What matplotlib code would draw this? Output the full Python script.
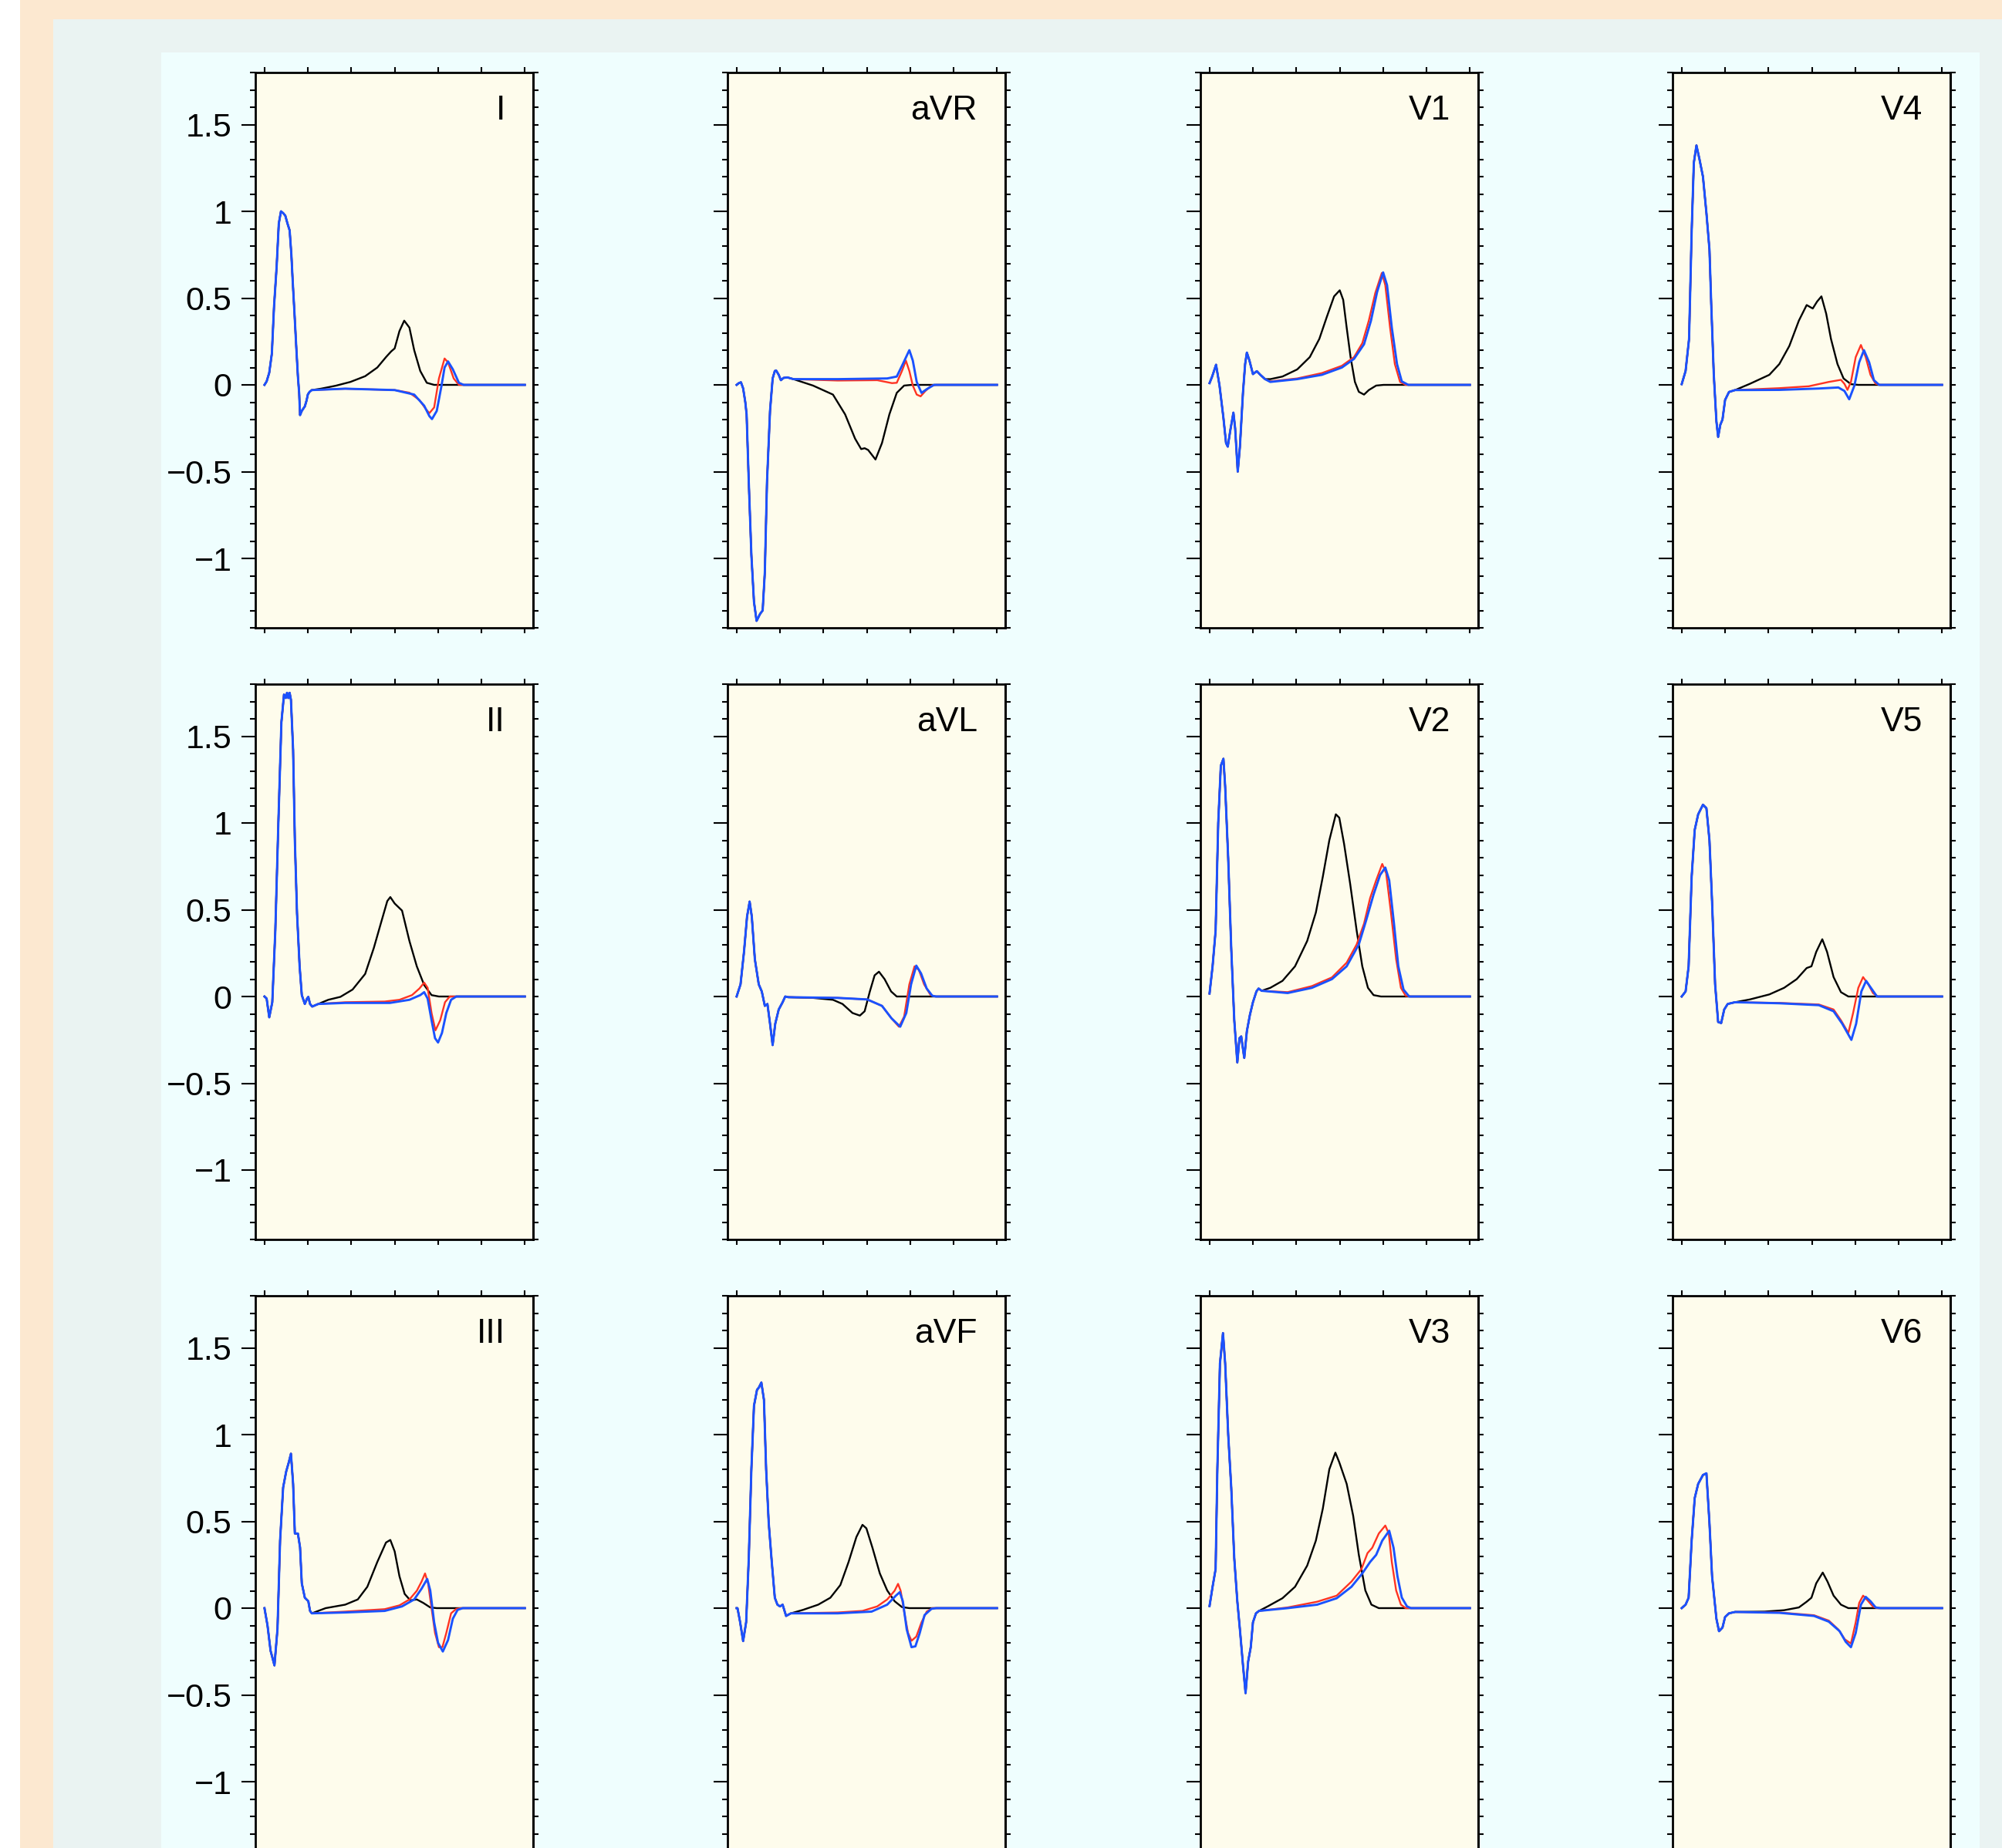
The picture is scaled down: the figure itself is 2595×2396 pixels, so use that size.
import matplotlib
matplotlib.use('Agg')
import matplotlib.pyplot as plt
from matplotlib.patches import Rectangle
from matplotlib.ticker import FixedLocator, MultipleLocator, NullFormatter

# ---------------- data (x in ms, y in mV) ----------------
xtick_vals = [0, 100, 200, 300, 400, 500, 600]
ytick_vals = [-1, -0.5, 0, 0.5, 1, 1.5]
ytick_labels = ['\u22121', '\u22120.5', '0', '0.5', '1', '1.5']

lead_grid = [['I', 'aVR', 'V1', 'V4'],
             ['II', 'aVL', 'V2', 'V5'],
             ['III', 'aVF', 'V3', 'V6']]

# Lead I
qrs_I_x = [0, 5, 11, 17, 22, 28, 33, 38, 43, 48, 53, 58, 62, 65, 69, 73, 77, 80, 82, 86, 90, 93, 97, 100, 104, 109]
qrs_I_y = [0, 0.02, 0.07, 0.18, 0.45, 0.68, 0.93, 1.0, 0.99, 0.975, 0.93, 0.89, 0.75, 0.6, 0.42, 0.23, 0.05, -0.05, -0.174, -0.15, -0.135, -0.124, -0.09, -0.055, -0.04, -0.03]
black_I_x = [130, 164, 198, 232, 260, 280, 292, 300, 311, 322, 334, 345, 359, 374, 391, 600]
black_I_y = [-0.022, -0.005, 0.017, 0.05, 0.1, 0.16, 0.193, 0.21, 0.31, 0.37, 0.33, 0.2, 0.08, 0.012, 0, 0]
red_I_x = [186, 300, 334, 357, 372, 380, 391, 402, 415, 423, 436, 448, 600]
red_I_y = [-0.022, -0.03, -0.045, -0.087, -0.14, -0.163, -0.13, 0.037, 0.152, 0.13, 0.037, 0, 0]
blue_I_x = [186, 300, 345, 368, 380, 386, 397, 408, 415, 423, 434, 448, 459, 600]
blue_I_y = [-0.022, -0.03, -0.056, -0.12, -0.18, -0.197, -0.15, -0.004, 0.1, 0.135, 0.09, 0.012, 0, 0]

# Lead aVR
qrs_aVR_x = [0, 5, 10, 15, 20, 23, 28, 34, 40, 46, 50, 54, 60, 65, 70, 77, 83, 88, 91, 97, 102, 108, 117, 131]
qrs_aVR_y = [0, 0.01, 0.015, -0.02, -0.1, -0.17, -0.56, -0.98, -1.25, -1.36, -1.34, -1.32, -1.3, -1.08, -0.56, -0.15, 0.037, 0.08, 0.083, 0.058, 0.027, 0.04, 0.043, 0.033]
black_aVR_x = [176, 222, 250, 273, 287, 295, 303, 320, 335, 352, 369, 386, 403, 600]
black_aVR_y = [-0.004, -0.056, -0.17, -0.31, -0.37, -0.365, -0.375, -0.43, -0.335, -0.17, -0.046, -0.004, 0, 0]
red_aVR_x = [233, 324, 358, 369, 381, 390, 398, 406, 415, 424, 435, 449, 460, 600]
red_aVR_y = [0.025, 0.027, 0.01, 0.012, 0.08, 0.14, 0.08, -0.004, -0.056, -0.066, -0.035, -0.004, 0, 0]
blue_aVR_x = [233, 347, 369, 383, 398, 406, 415, 426, 438, 455, 600]
blue_aVR_y = [0.033, 0.037, 0.048, 0.12, 0.2, 0.14, 0.017, -0.046, -0.025, 0, 0]

# Lead V1
qrs_V1_x = [0, 6, 15, 23, 32, 38, 42, 48, 55, 59, 65, 70, 77, 82, 86, 92, 100, 109, 117, 128]
qrs_V1_y = [0.01, 0.048, 0.116, -0.004, -0.19, -0.335, -0.356, -0.26, -0.16, -0.25, -0.5, -0.356, -0.046, 0.12, 0.186, 0.14, 0.062, 0.079, 0.058, 0.033]
black_V1_x = [140, 168, 202, 231, 253, 270, 287, 300, 308, 316, 325, 335, 344, 356, 367, 384, 401, 600]
black_V1_y = [0.033, 0.048, 0.089, 0.16, 0.265, 0.39, 0.51, 0.545, 0.49, 0.33, 0.16, 0.017, -0.04, -0.056, -0.03, -0.004, 0, 0]
red_V1_x = [140, 202, 259, 305, 333, 352, 367, 382, 397, 405, 416, 427, 439, 452, 600]
red_V1_y = [0.02, 0.037, 0.068, 0.11, 0.16, 0.24, 0.37, 0.53, 0.645, 0.575, 0.33, 0.12, 0.017, 0, 0]
blue_V1_x = [140, 202, 259, 305, 333, 356, 372, 386, 400, 409, 420, 432, 443, 458, 600]
blue_V1_y = [0.017, 0.033, 0.058, 0.1, 0.15, 0.234, 0.37, 0.534, 0.648, 0.575, 0.33, 0.12, 0.02, 0, 0]

# Lead V4
qrs_V4_x = [0, 9, 17, 23, 28, 34, 41, 49, 57, 64, 68, 74, 80, 84, 89, 94, 100, 109, 123]
qrs_V4_y = [0.004, 0.08, 0.265, 0.886, 1.28, 1.38, 1.3, 1.2, 0.99, 0.78, 0.47, 0.058, -0.21, -0.3, -0.23, -0.2, -0.087, -0.041, -0.03]
black_V4_x = [157, 202, 225, 248, 270, 288, 295, 302, 312, 322, 333, 344, 359, 373, 390, 407, 600]
black_V4_y = [0.006, 0.058, 0.12, 0.224, 0.37, 0.46, 0.45, 0.44, 0.48, 0.51, 0.41, 0.265, 0.12, 0.037, 0.004, 0, 0]
red_V4_x = [225, 293, 339, 367, 375, 382, 390, 401, 413, 424, 435, 447, 458, 600]
red_V4_y = [-0.019, -0.008, 0.017, 0.029, 0.006, -0.029, 0.017, 0.16, 0.23, 0.16, 0.058, 0.006, 0, 0]
blue_V4_x = [225, 316, 361, 375, 386, 398, 409, 420, 432, 443, 455, 600]
blue_V4_y = [-0.029, -0.021, -0.015, -0.035, -0.083, -0.004, 0.13, 0.2, 0.13, 0.027, 0, 0]

# Lead II
qrs_II_x = [0, 5, 11, 18, 25, 32, 39, 45, 49, 52, 55, 58, 61, 66, 70, 75, 81, 86, 93, 98, 101, 105, 110, 124]
qrs_II_y = [0, -0.012, -0.12, -0.033, 0.38, 1.0, 1.58, 1.74, 1.72, 1.75, 1.72, 1.75, 1.71, 1.42, 0.9, 0.48, 0.174, 0.008, -0.043, -0.012, -0.002, -0.043, -0.058, -0.043]
black_II_x = [147, 175, 203, 232, 252, 268, 283, 290, 300, 317, 334, 351, 368, 385, 402, 600]
black_II_y = [-0.019, -0.002, 0.04, 0.13, 0.28, 0.42, 0.55, 0.573, 0.536, 0.495, 0.32, 0.174, 0.066, 0.008, 0, 0]
red_II_x = [186, 277, 311, 340, 357, 368, 376, 385, 394, 405, 416, 427, 600]
red_II_y = [-0.033, -0.029, -0.019, 0.008, 0.046, 0.08, 0.05, -0.095, -0.195, -0.137, -0.033, 0, 0]
blue_II_x = [186, 289, 334, 359, 368, 376, 385, 393, 400, 409, 419, 430, 442, 600]
blue_II_y = [-0.037, -0.037, -0.019, 0.008, 0.025, -0.012, -0.137, -0.24, -0.265, -0.21, -0.095, -0.019, 0, 0]

# Lead aVL
qrs_aVL_x = [0, 9, 17, 24, 30, 35, 42, 51, 58, 65, 71, 77, 83, 89, 97, 106, 112, 119]
qrs_aVL_y = [0, 0.07, 0.257, 0.46, 0.547, 0.46, 0.215, 0.07, 0.029, -0.054, -0.043, -0.157, -0.28, -0.157, -0.075, -0.033, 0, -0.004]
black_aVL_x = [176, 222, 244, 267, 284, 295, 307, 318, 328, 341, 356, 369, 600]
black_aVL_y = [-0.008, -0.019, -0.043, -0.095, -0.11, -0.085, 0.029, 0.122, 0.143, 0.1, 0.029, 0, 0]
red_aVL_x = [233, 301, 335, 357, 374, 386, 398, 410, 420, 432, 447, 458, 600]
red_aVL_y = [-0.008, -0.017, -0.054, -0.126, -0.174, -0.116, 0.07, 0.174, 0.153, 0.07, 0.008, 0, 0]
blue_aVL_x = [233, 301, 335, 357, 377, 391, 402, 414, 425, 438, 451, 460, 600]
blue_aVL_y = [-0.008, -0.017, -0.054, -0.126, -0.174, -0.095, 0.07, 0.178, 0.133, 0.046, 0.004, 0, 0]

# Lead V2
qrs_V2_x = [0, 7, 14, 20, 26, 32, 36, 43, 50, 57, 64, 69, 73, 80, 86, 93, 100, 108, 113, 120]
qrs_V2_y = [0.017, 0.174, 0.38, 1.0, 1.33, 1.37, 1.21, 0.795, 0.277, -0.137, -0.38, -0.24, -0.23, -0.354, -0.2, -0.106, -0.033, 0.029, 0.046, 0.033]
black_V2_x = [140, 168, 197, 225, 245, 261, 276, 291, 299, 310, 324, 339, 352, 365, 378, 395, 600]
black_V2_y = [0.05, 0.09, 0.174, 0.32, 0.484, 0.69, 0.9, 1.05, 1.03, 0.88, 0.65, 0.38, 0.174, 0.05, 0.008, 0, 0]
red_V2_x = [180, 236, 282, 316, 339, 356, 370, 384, 398, 407, 418, 430, 441, 452, 464, 600]
red_V2_y = [0.025, 0.06, 0.11, 0.195, 0.3, 0.42, 0.567, 0.67, 0.764, 0.71, 0.484, 0.215, 0.05, 0.004, 0, 0]
blue_V2_x = [180, 236, 282, 316, 344, 361, 378, 393, 405, 414, 425, 435, 447, 460, 600]
blue_V2_y = [0.02, 0.05, 0.1, 0.174, 0.3, 0.44, 0.588, 0.7, 0.743, 0.67, 0.42, 0.174, 0.04, 0, 0]

# Lead V5
qrs_V5_x = [0, 9, 16, 23, 30, 38, 49, 57, 64, 70, 77, 84, 91, 98, 106, 123]
qrs_V5_y = [0, 0.029, 0.174, 0.69, 0.96, 1.05, 1.105, 1.085, 0.9, 0.547, 0.07, -0.147, -0.153, -0.075, -0.043, -0.033]
black_V5_x = [157, 202, 236, 265, 288, 299, 310, 324, 335, 350, 367, 384, 600]
black_V5_y = [-0.017, 0.012, 0.05, 0.1, 0.164, 0.174, 0.257, 0.33, 0.257, 0.112, 0.025, 0, 0]
red_V5_x = [225, 316, 350, 367, 384, 395, 407, 418, 430, 441, 452, 600]
red_V5_y = [-0.037, -0.046, -0.075, -0.137, -0.21, -0.095, 0.05, 0.112, 0.07, 0.019, 0, 0]
blue_V5_x = [225, 316, 350, 370, 391, 402, 414, 425, 436, 450, 600]
blue_V5_y = [-0.039, -0.05, -0.085, -0.157, -0.25, -0.157, 0.029, 0.09, 0.05, 0, 0]

# Lead III
qrs_III_x = [0, 7, 14, 23, 30, 36, 43, 50, 56, 61, 66, 70, 77, 82, 86, 93, 101, 105, 109]
qrs_III_y = [0, -0.1, -0.245, -0.33, -0.12, 0.39, 0.695, 0.787, 0.84, 0.89, 0.716, 0.43, 0.43, 0.35, 0.143, 0.06, 0.04, -0.016, -0.03]
black_III_x = [141, 186, 215, 237, 260, 280, 290, 300, 311, 323, 336, 351, 366, 382, 397, 600]
black_III_y = [0, 0.02, 0.05, 0.123, 0.266, 0.378, 0.393, 0.327, 0.184, 0.082, 0.045, 0.05, 0.03, 0.004, 0, 0]
red_III_x = [186, 277, 311, 334, 351, 362, 370, 377, 385, 393, 402, 410, 419, 430, 442, 453, 600]
red_III_y = [-0.02, -0.006, 0.016, 0.05, 0.1, 0.153, 0.2, 0.143, 0, -0.143, -0.225, -0.225, -0.143, -0.03, -0.004, 0, 0]
blue_III_x = [186, 277, 317, 345, 362, 375, 382, 391, 400, 411, 423, 434, 445, 457, 600]
blue_III_y = [-0.025, -0.016, 0.01, 0.05, 0.112, 0.168, 0.102, -0.082, -0.2, -0.25, -0.184, -0.061, -0.01, 0, 0]

# Lead aVF
qrs_aVF_x = [0, 2, 8, 15, 22, 28, 34, 40, 47, 51, 57, 63, 68, 74, 81, 88, 94, 100, 106, 114, 125]
qrs_aVF_y = [0, 0, -0.08, -0.19, -0.08, 0.286, 0.8, 1.166, 1.258, 1.27, 1.3, 1.2, 0.8, 0.49, 0.266, 0.06, 0.02, 0.01, 0.02, -0.045, -0.03]
black_aVF_x = [153, 188, 216, 239, 258, 276, 290, 299, 313, 330, 347, 364, 381, 398, 600]
black_aVF_y = [-0.01, 0.02, 0.06, 0.133, 0.266, 0.41, 0.48, 0.46, 0.348, 0.2, 0.102, 0.04, 0.006, 0, 0]
red_aVF_x = [233, 290, 324, 347, 364, 372, 378, 386, 395, 403, 414, 426, 438, 451, 600]
red_aVF_y = [-0.025, -0.016, 0.01, 0.05, 0.1, 0.14, 0.1, -0.02, -0.143, -0.188, -0.164, -0.082, -0.02, 0, 0]
blue_aVF_x = [233, 311, 347, 367, 376, 383, 392, 403, 412, 422, 433, 449, 460, 600]
blue_aVF_y = [-0.03, -0.02, 0.02, 0.072, 0.092, 0.04, -0.123, -0.225, -0.22, -0.143, -0.04, -0.004, 0, 0]

# Lead V3
qrs_V3_x = [0, 7, 14, 18, 24, 31, 36, 43, 50, 57, 64, 70, 77, 83, 89, 95, 100, 107, 114]
qrs_V3_y = [0.012, 0.123, 0.225, 0.8, 1.41, 1.585, 1.41, 1.0, 0.695, 0.286, 0.04, -0.123, -0.327, -0.49, -0.307, -0.225, -0.082, -0.03, -0.016]
black_V3_x = [134, 168, 197, 225, 245, 261, 276, 290, 299, 316, 331, 344, 359, 373, 390, 600]
black_V3_y = [0.01, 0.057, 0.123, 0.245, 0.389, 0.573, 0.8, 0.896, 0.84, 0.716, 0.532, 0.307, 0.102, 0.02, 0, 0]
red_V3_x = [180, 248, 293, 327, 350, 364, 375, 390, 405, 413, 420, 430, 441, 452, 600]
red_V3_y = [0.004, 0.037, 0.072, 0.153, 0.225, 0.317, 0.348, 0.43, 0.476, 0.43, 0.266, 0.102, 0.02, 0, 0]
blue_V3_x = [180, 248, 293, 327, 352, 370, 384, 398, 414, 424, 433, 443, 455, 464, 600]
blue_V3_y = [0, 0.02, 0.057, 0.123, 0.2, 0.266, 0.307, 0.389, 0.446, 0.348, 0.184, 0.061, 0.01, 0, 0]

# Lead V6
qrs_V6_x = [0, 9, 16, 23, 30, 38, 49, 57, 64, 70, 80, 86, 94, 100, 109, 123]
qrs_V6_y = [0, 0.02, 0.06, 0.39, 0.634, 0.716, 0.767, 0.777, 0.49, 0.184, -0.061, -0.133, -0.112, -0.051, -0.03, -0.022]
black_V6_x = [191, 236, 270, 288, 299, 310, 325, 336, 350, 367, 384, 600]
black_V6_y = [-0.02, -0.012, 0.004, 0.037, 0.06, 0.143, 0.205, 0.153, 0.072, 0.02, 0, 0]
red_V6_x = [225, 305, 339, 361, 376, 390, 401, 409, 418, 430, 441, 452, 600]
red_V6_y = [-0.025, -0.041, -0.072, -0.123, -0.18, -0.204, -0.082, 0.03, 0.072, 0.04, 0.008, 0, 0]
blue_V6_x = [225, 305, 339, 364, 378, 390, 401, 413, 424, 435, 447, 458, 600]
blue_V6_y = [-0.027, -0.045, -0.078, -0.133, -0.194, -0.225, -0.143, 0.02, 0.065, 0.04, 0.004, 0, 0]

# ---------------- figure ----------------
W, H, DPI = 2595, 2396, 100
plt.rcParams['font.family'] = ['Liberation Sans', 'DejaVu Sans']
fig = plt.figure(figsize=(W / DPI, H / DPI), dpi=DPI, facecolor='white')


def px_rect(x0, y0, x1, y1, color):
    fig.add_artist(Rectangle((x0 / W, 1 - y1 / H), (x1 - x0) / W, (y1 - y0) / H,
                             transform=fig.transFigure, facecolor=color,
                             edgecolor='none', zorder=-10))


px_rect(26, 0, W, H, '#fce8d0')
px_rect(69, 25, W, H, '#eaf3f2')
px_rect(209, 68, 2566, H, '#effefe')

col_left = [331, 943, 1556, 2168]
row_top = [94, 887, 1680]
ax_w, ax_h = 360, 720

COLORS = {'black': '#000000', 'red': '#ff3322', 'blue': '#1a52ff'}
LWS = {'black': 1.7, 'red': 1.7, 'blue': 2.1}

g = globals()
for r, row in enumerate(lead_grid):
    for c, lead in enumerate(row):
        L, T = col_left[c], row_top[r]
        ax = fig.add_axes([L / W, 1 - (T + ax_h) / H, ax_w / W, ax_h / H])
        ax.set_facecolor('#fefcec')
        qx, qy = g['qrs_%s_x' % lead], g['qrs_%s_y' % lead]
        for s in ['black', 'red', 'blue']:
            xs = qx + g['%s_%s_x' % (s, lead)]
            ys = qy + g['%s_%s_y' % (s, lead)]
            ax.plot(xs, ys, color=COLORS[s], lw=LWS[s], solid_joinstyle='round')
        ax.set_xlim(-21, 619)
        ax.set_ylim(-1.4, 1.8)
        ax.xaxis.set_major_locator(FixedLocator(xtick_vals))
        ax.xaxis.set_major_formatter(NullFormatter())
        ax.tick_params(axis='x', which='major', direction='out', top=True, bottom=True,
                       length=5, width=1.5)
        ax.yaxis.set_major_locator(FixedLocator(ytick_vals))
        ax.yaxis.set_minor_locator(MultipleLocator(0.1))
        ax.tick_params(axis='y', which='major', direction='out', left=True, right=False,
                       length=13, width=1.5, labelsize=31, pad=9)
        ax.tick_params(axis='y', which='minor', direction='out', left=True, right=False,
                       length=5, width=1.5)
        if c == 0:
            ax.set_yticklabels(ytick_labels)
        else:
            ax.yaxis.set_major_formatter(NullFormatter())
        sec = ax.secondary_yaxis('right')
        sec.yaxis.set_major_locator(FixedLocator(ytick_vals))
        sec.yaxis.set_minor_locator(MultipleLocator(0.1))
        sec.yaxis.set_major_formatter(NullFormatter())
        sec.tick_params(axis='y', which='both', direction='out', length=5, width=1.5)
        sec.spines['right'].set_linewidth(2.0)
        for sp in ax.spines.values():
            sp.set_linewidth(2.0)
            sp.set_zorder(5)
        ax.text(0.9, 0.931, lead, transform=ax.transAxes, ha='right', va='center',
                fontsize=32)

fig.savefig('out.png', dpi=DPI, facecolor=fig.get_facecolor())
